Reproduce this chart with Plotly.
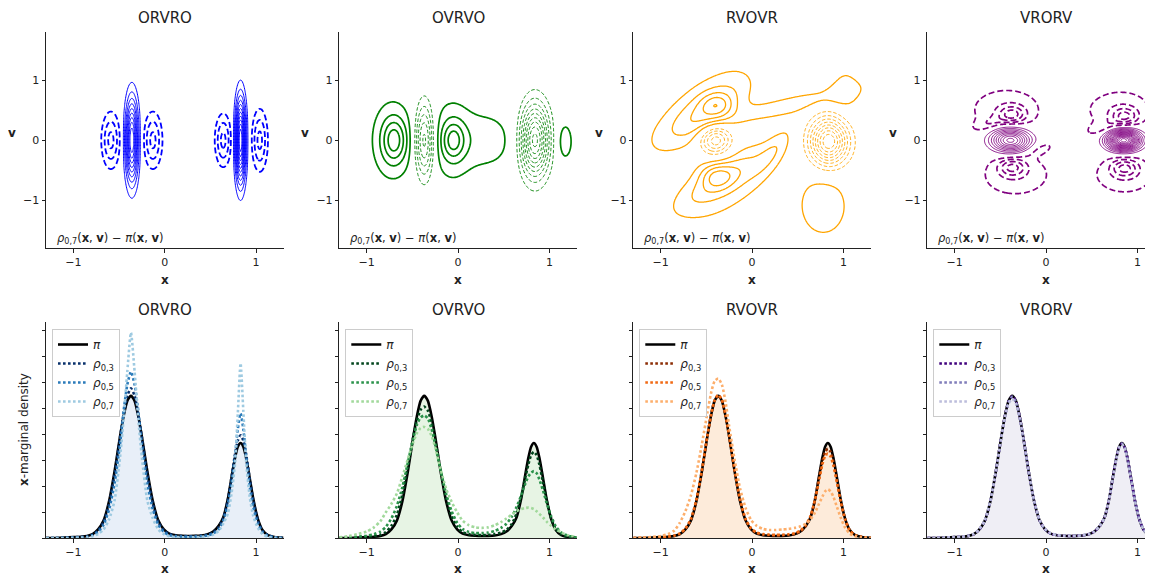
import numpy as np
import plotly.graph_objects as go

# The page body has an 8px margin, so the figure is drawn 8px smaller and every
# reference pixel position is shifted by OFF.
OFF = 8
W, H = 1153 - OFF, 575 - OFF
FONT = "DejaVu Sans"
INK = "#222222"

TITLES = ["ORVRO", "OVRVO", "RVOVR", "VRORV"]
X_TICKS = [-1, 0, 1]
V_TICKS = [-1, 0, 1]
DENS_TICKS = [0, 0.5, 1.0, 1.5, 2.0, 2.5, 3.0, 3.5, 4.0]
RHO_NAMES = ["<i>ρ</i><sub>0,3</sub>", "<i>ρ</i><sub>0,5</sub>", "<i>ρ</i><sub>0,7</sub>"]

# ---------------- x-marginal densities (read from the bottom row) ----------------
X_GRID = [-1.30, -1.20, -1.10, -1.00, -0.92, -0.85, -0.79, -0.73, -0.67, -0.61,
          -0.55, -0.49, -0.45, -0.41, -0.37, -0.33, -0.29, -0.25, -0.19, -0.13,
          -0.07, -0.01, 0.05, 0.12, 0.19, 0.26, 0.33, 0.40, 0.47, 0.53,
          0.59, 0.64, 0.69, 0.73, 0.77, 0.80, 0.83, 0.86, 0.89, 0.93,
          0.97, 1.02, 1.07, 1.13, 1.20, 1.30]

PI = [0.003, 0.007, 0.013, 0.022, 0.030, 0.045, 0.08, 0.17, 0.34, 0.71,
      1.28, 1.95, 2.35, 2.64, 2.74, 2.64, 2.35, 1.95, 1.28, 0.71,
      0.34, 0.17, 0.09, 0.06, 0.05, 0.045, 0.047, 0.055, 0.08, 0.13,
      0.24, 0.40, 0.75, 1.16, 1.55, 1.76, 1.83, 1.76, 1.55, 1.16,
      0.75, 0.37, 0.16, 0.06, 0.025, 0.008]

ORVRO_R03 = [0.003, 0.006, 0.011, 0.019, 0.026, 0.04, 0.07, 0.15, 0.31, 0.66,
             1.22, 1.93, 2.38, 2.74, 2.88, 2.74, 2.38, 1.93, 1.22, 0.66,
             0.31, 0.15, 0.08, 0.05, 0.043, 0.04, 0.042, 0.05, 0.07, 0.11,
             0.21, 0.38, 0.73, 1.16, 1.62, 1.88, 1.98, 1.88, 1.62, 1.15,
             0.72, 0.34, 0.14, 0.055, 0.022, 0.007]
ORVRO_R05 = [0.002, 0.004, 0.008, 0.014, 0.02, 0.03, 0.06, 0.12, 0.26, 0.55,
             1.05, 1.8, 2.45, 2.95, 3.2, 2.95, 2.45, 1.8, 1.05, 0.55,
             0.26, 0.12, 0.06, 0.04, 0.033, 0.03, 0.033, 0.04, 0.055, 0.09,
             0.17, 0.34, 0.65, 1.05, 1.6, 2.1, 2.4, 2.1, 1.6, 1.0,
             0.6, 0.28, 0.12, 0.045, 0.017, 0.005]
ORVRO_R07 = [0.001, 0.002, 0.004, 0.008, 0.012, 0.02, 0.04, 0.08, 0.17, 0.36,
             0.72, 1.55, 2.3, 3.2, 3.95, 3.2, 2.3, 1.55, 0.72, 0.38,
             0.17, 0.08, 0.04, 0.025, 0.02, 0.02, 0.022, 0.028, 0.04, 0.07,
             0.14, 0.28, 0.47, 0.85, 1.45, 2.4, 3.36, 2.45, 1.5, 0.8,
             0.42, 0.2, 0.08, 0.03, 0.01, 0.003]

OVRVO_R03 = [0.005, 0.01, 0.018, 0.03, 0.045, 0.07, 0.12, 0.24, 0.45, 0.84,
             1.38, 1.95, 2.27, 2.47, 2.53, 2.45, 2.22, 1.88, 1.3, 0.78,
             0.42, 0.22, 0.12, 0.08, 0.065, 0.06, 0.065, 0.08, 0.11, 0.16,
             0.28, 0.48, 0.80, 1.12, 1.42, 1.6, 1.66, 1.6, 1.42, 1.08,
             0.72, 0.38, 0.18, 0.07, 0.03, 0.01]
OVRVO_R05 = [0.008, 0.017, 0.03, 0.05, 0.08, 0.13, 0.22, 0.38, 0.62, 0.98,
             1.45, 1.92, 2.18, 2.32, 2.36, 2.3, 2.1, 1.8, 1.3, 0.85,
             0.52, 0.30, 0.18, 0.12, 0.10, 0.10, 0.11, 0.14, 0.20, 0.28,
             0.42, 0.60, 0.82, 1.02, 1.19, 1.26, 1.29, 1.25, 1.13, 0.92,
             0.68, 0.42, 0.23, 0.11, 0.05, 0.015]
OVRVO_R07 = [0.02, 0.04, 0.08, 0.13, 0.21, 0.33, 0.50, 0.66, 0.86, 1.18,
             1.52, 1.85, 2.02, 2.12, 2.14, 2.1, 1.97, 1.75, 1.32, 0.95,
             0.70, 0.50, 0.34, 0.25, 0.21, 0.20, 0.21, 0.25, 0.31, 0.38,
             0.46, 0.52, 0.56, 0.58, 0.59, 0.58, 0.56, 0.52, 0.47, 0.40,
             0.32, 0.24, 0.17, 0.11, 0.06, 0.02]

RVOVR_R03 = [0.003, 0.007, 0.013, 0.022, 0.03, 0.047, 0.085, 0.18, 0.35, 0.72,
             1.29, 1.96, 2.36, 2.65, 2.75, 2.65, 2.36, 1.96, 1.29, 0.72,
             0.35, 0.18, 0.10, 0.07, 0.06, 0.055, 0.057, 0.065, 0.085, 0.13,
             0.24, 0.41, 0.75, 1.13, 1.48, 1.66, 1.72, 1.66, 1.48, 1.12,
             0.73, 0.36, 0.15, 0.06, 0.025, 0.008]
RVOVR_R05 = [0.004, 0.008, 0.015, 0.025, 0.035, 0.055, 0.095, 0.19, 0.37, 0.74,
             1.30, 1.96, 2.36, 2.65, 2.76, 2.66, 2.37, 1.97, 1.31, 0.74,
             0.37, 0.19, 0.11, 0.08, 0.07, 0.065, 0.068, 0.078, 0.10, 0.15,
             0.26, 0.43, 0.75, 1.08, 1.42, 1.58, 1.63, 1.57, 1.40, 1.06,
             0.70, 0.36, 0.15, 0.06, 0.025, 0.008]
RVOVR_R07 = [0.005, 0.012, 0.025, 0.045, 0.08, 0.15, 0.30, 0.52, 0.82, 1.25,
             1.8, 2.4, 2.78, 3.02, 3.07, 2.95, 2.62, 2.15, 1.5, 0.95,
             0.58, 0.35, 0.24, 0.18, 0.16, 0.16, 0.17, 0.18, 0.2, 0.23,
             0.28, 0.36, 0.5, 0.65, 0.8, 0.9, 0.94, 0.9, 0.8, 0.6,
             0.4, 0.2, 0.09, 0.04, 0.015, 0.005]

VRORV_R03 = [0.003, 0.007, 0.013, 0.022, 0.030, 0.046, 0.082, 0.17, 0.34, 0.71,
             1.28, 1.95, 2.35, 2.63, 2.73, 2.63, 2.35, 1.95, 1.28, 0.71,
             0.34, 0.17, 0.09, 0.06, 0.05, 0.045, 0.047, 0.055, 0.08, 0.13,
             0.24, 0.40, 0.75, 1.16, 1.55, 1.75, 1.82, 1.75, 1.55, 1.16,
             0.75, 0.37, 0.16, 0.06, 0.025, 0.008]
VRORV_R05 = [0.003, 0.007, 0.013, 0.022, 0.031, 0.047, 0.083, 0.17, 0.34, 0.71,
             1.28, 1.94, 2.34, 2.62, 2.72, 2.62, 2.34, 1.94, 1.28, 0.71,
             0.34, 0.17, 0.09, 0.06, 0.05, 0.046, 0.048, 0.056, 0.08, 0.13,
             0.24, 0.40, 0.75, 1.15, 1.54, 1.75, 1.82, 1.75, 1.54, 1.15,
             0.75, 0.37, 0.16, 0.06, 0.025, 0.008]
VRORV_R07 = [0.003, 0.007, 0.013, 0.022, 0.031, 0.048, 0.085, 0.18, 0.35, 0.72,
             1.28, 1.93, 2.32, 2.59, 2.68, 2.59, 2.32, 1.93, 1.28, 0.72,
             0.35, 0.18, 0.095, 0.062, 0.052, 0.047, 0.049, 0.057, 0.082, 0.13,
             0.24, 0.40, 0.75, 1.15, 1.53, 1.74, 1.80, 1.74, 1.53, 1.15,
             0.75, 0.37, 0.16, 0.06, 0.025, 0.008]

RHO = [
    [ORVRO_R03, ORVRO_R05, ORVRO_R07],
    [OVRVO_R03, OVRVO_R05, OVRVO_R07],
    [RVOVR_R03, RVOVR_R05, RVOVR_R07],
    [VRORV_R03, VRORV_R05, VRORV_R07],
]

# ---------------- (x, v) difference fields: lobes read from the top row ----------------
# centre x, centre v, spread along axis, spread across axis, axis angle (deg), amplitude (contour steps)
ORVRO_CX = [-0.36, -0.59, -0.13, 0.83, 0.64, 1.04]
ORVRO_CV = [0.0, 0.0, 0.0, 0.0, 0.0, 0.0]
ORVRO_SA = [0.047, 0.068, 0.068, 0.038, 0.060, 0.058]
ORVRO_SB = [0.45, 0.31, 0.31, 0.45, 0.29, 0.34]
ORVRO_ANG = [0, 0, 0, 0, 0, 0]
ORVRO_AMP = [10.0, -3.3, -3.3, 12.0, -3.3, -3.3]

OVRVO_CX = [-0.72, -0.70, -0.37, -0.08, -0.05, 0.30, 0.84, 1.17]
OVRVO_CV = [0.0, 0.0, 0.0, 0.0, 0.0, 0.0, 0.0, -0.02]
OVRVO_SA = [0.19, 0.09, 0.07, 0.15, 0.08, 0.26, 0.105, 0.07]
OVRVO_SB = [0.55, 0.25, 0.42, 0.50, 0.20, 0.40, 0.40, 0.26]
OVRVO_ANG = [0, 0, 0, 0, 0, 0, 0, 0]
OVRVO_AMP = [1.75, 3.0, -5.8, 1.75, 2.4, 1.5, -9.5, 1.6]

RVOVR_CX = [-0.38, -0.48, -0.62, 0.45, 1.02, -0.40, -0.32, -0.28, 0.22, -0.40, 0.84, 0.78]
RVOVR_CV = [0.58, 0.50, 0.50, 0.60, 0.85, -0.58, -0.65, -0.78, -0.20, 0.00, -0.02, -1.10]
RVOVR_SA = [0.12, 0.40, 0.75, 0.62, 0.12, 0.12, 0.42, 0.65, 0.30, 0.115, 0.14, 0.21]
RVOVR_SB = [0.14, 0.17, 0.25, 0.13, 0.35, 0.14, 0.15, 0.30, 0.08, 0.16, 0.26, 0.40]
RVOVR_ANG = [0, 50, 57, 20, 0, 0, 45, 55, 65, 0, 0, 0]
RVOVR_AMP = [2.0, 2.0, 1.3, 1.35, 1.1, 2.0, 2.0, 1.3, 1.2, -5.0, -9.0, 1.8]

VRORV_CX = [-0.39, -0.37, -0.44, -0.62, -0.37, -0.33, -0.08,
            0.85, 0.86, 0.80, 0.60, 0.86, 0.86]
VRORV_CV = [0.0, 0.43, 0.52, 0.28, -0.45, -0.58, -0.15,
            0.0, 0.40, 0.52, 0.20, -0.46, -0.58]
VRORV_SA = [0.145, 0.10, 0.33, 0.14, 0.10, 0.32, 0.14,
            0.12, 0.10, 0.30, 0.13, 0.10, 0.28]
VRORV_SB = [0.13, 0.10, 0.30, 0.07, 0.10, 0.30, 0.07,
            0.11, 0.10, 0.27, 0.07, 0.10, 0.27]
VRORV_ANG = [-8, 0, 10, 30, 0, 10, 30,
             0, 0, 15, 30, 0, 0]
VRORV_AMP = [10.0, -3.0, -1.7, -1.2, -3.0, -1.7, -1.2,
             16.0, -3.0, -1.7, -1.2, -3.0, -1.7]

LOBES = [
    (ORVRO_CX, ORVRO_CV, ORVRO_SA, ORVRO_SB, ORVRO_ANG, ORVRO_AMP),
    (OVRVO_CX, OVRVO_CV, OVRVO_SA, OVRVO_SB, OVRVO_ANG, OVRVO_AMP),
    (RVOVR_CX, RVOVR_CV, RVOVR_SA, RVOVR_SB, RVOVR_ANG, RVOVR_AMP),
    (VRORV_CX, VRORV_CV, VRORV_SA, VRORV_SB, VRORV_ANG, VRORV_AMP),
]

# ---------------- styles ----------------
CONTOUR_COLORS = ["#0000ff", "#008000", "#ffa500", "#800080"]
POS_WIDTH = [1.0, 1.7, 1.3, 0.9]
NEG_WIDTH = [1.8, 0.9, 0.9, 1.7]
NEG_DASH = ["6px,3px", "3.5px,2px", "3.5px,2px", "6px,3px"]
RHO_COLORS = [
    ["#08306b", "#2b7bba", "#9ecae1"],
    ["#00441b", "#2a924a", "#a1d99b"],
    ["#8c2d04", "#f16913", "#fdae6b"],
    ["#3f007d", "#807dba", "#bcbddc"],
]
FILL_COLORS = ["#e8eff8", "#e7f4e4", "#fdebda", "#efeef5"]

# axes geometry in reference-page pixels
AX_LEFT = [46.0, 339.3, 633.3, 927.3]
AX_W = 237.5
X_MIN, X_MAX = -1.3, 1.3
TOP_Y = (32.3, 248.3)
BOT_Y = (322.3, 538.3)


def px(xp):
    return (xp - OFF) / W


def py(yp):
    return 1 - (yp - OFF) / H


def field(xg, vg, cx, cv, sa, sb, ang, amp):
    X, V = np.meshgrid(xg, vg)
    Z = np.zeros_like(X)
    for a, b, s1, s2, t, A in zip(cx, cv, sa, sb, ang, amp):
        th = np.deg2rad(t)
        dx, dv = X - a, V - b
        u = dx * np.cos(th) + dv * np.sin(th)
        w = -dx * np.sin(th) + dv * np.cos(th)
        Z += A * np.exp(-0.5 * ((u / s1) ** 2 + (w / s2) ** 2))
    return np.round(Z, 3)


xg = np.round(np.linspace(-1.3, 1.3, 261), 3)
vg = np.round(np.linspace(-1.8, 1.8, 145), 3)

fig = go.Figure()
layout = dict(
    width=W, height=H, autosize=False,
    margin=dict(l=0, r=0, t=0, b=0, autoexpand=False),
    paper_bgcolor="white", plot_bgcolor="white",
    font=dict(family=FONT, size=11, color=INK),
    showlegend=True,
)
annotations = []


def axis_common():
    return dict(showline=True, linecolor=INK, linewidth=1, ticks="outside", ticklen=3.5,
                tickwidth=1, tickcolor=INK, showgrid=False, zeroline=False,
                tickfont=dict(family=FONT, size=11, color=INK), fixedrange=True)


for i in range(4):
    left = AX_LEFT[i]
    right = min(left + AX_W, 1153)
    xr = X_MIN + (right - left) / AX_W * (X_MAX - X_MIN)
    xdom = [px(left), min(px(right), 1.0)]
    top_dom = [py(TOP_Y[1]), py(TOP_Y[0])]
    bot_dom = [py(BOT_Y[1]), py(BOT_Y[0])]
    nt, nb = i + 1, i + 5
    xt, yt = f"x{nt}", f"y{nt}"
    xb, yb = f"x{nb}", f"y{nb}"

    layout[f"xaxis{nt}"] = dict(domain=xdom, range=[X_MIN, xr], anchor=yt,
                                tickvals=X_TICKS, **axis_common())
    layout[f"yaxis{nt}"] = dict(domain=top_dom, range=[-1.8, 1.8], anchor=xt,
                                tickvals=V_TICKS, **axis_common())
    layout[f"xaxis{nb}"] = dict(domain=xdom, range=[X_MIN, xr], anchor=yb,
                                tickvals=X_TICKS, **axis_common())
    layout[f"yaxis{nb}"] = dict(domain=bot_dom, range=[0, 4.15], anchor=xb,
                                tickvals=DENS_TICKS, showticklabels=False, **axis_common())

    # ---- top: contour lines of rho_{0,7} - pi ----
    Z = field(xg, vg, *LOBES[i])
    c = CONTOUR_COLORS[i]
    cs = [[0, c], [1, c]]
    fig.add_trace(go.Contour(
        x=xg, y=vg, z=Z, xaxis=xt, yaxis=yt, autocontour=False,
        contours=dict(start=1, end=60, size=1, coloring="lines"),
        colorscale=cs, showscale=False, line=dict(width=POS_WIDTH[i], dash="solid", smoothing=1),
        hoverinfo="skip", showlegend=False))
    fig.add_trace(go.Contour(
        x=xg, y=vg, z=Z, xaxis=xt, yaxis=yt, autocontour=False,
        contours=dict(start=-60, end=-1, size=1, coloring="lines"),
        colorscale=cs, showscale=False, line=dict(width=NEG_WIDTH[i], dash=NEG_DASH[i], smoothing=1),
        hoverinfo="skip", showlegend=False))

    # ---- bottom: x-marginal densities ----
    leg = "legend" if i == 0 else f"legend{i + 1}"
    fig.add_trace(go.Scatter(
        x=X_GRID, y=PI, xaxis=xb, yaxis=yb, mode="lines",
        line=dict(width=0, color=FILL_COLORS[i], shape="spline", smoothing=0.6),
        fill="tozeroy", fillcolor=FILL_COLORS[i], showlegend=False, hoverinfo="skip"))
    fig.add_trace(go.Scatter(
        x=X_GRID, y=PI, xaxis=xb, yaxis=yb, mode="lines", name="<i>π</i>",
        line=dict(width=2.6, color="black", shape="spline", smoothing=0.6),
        legend=leg, hoverinfo="skip"))
    for k in range(3):
        fig.add_trace(go.Scatter(
            x=X_GRID, y=RHO[i][k], xaxis=xb, yaxis=yb, mode="lines", name=RHO_NAMES[k],
            line=dict(width=2.6, color=RHO_COLORS[i][k], dash="2.6px,2.4px",
                      shape="spline", smoothing=0.6),
            legend=leg, hoverinfo="skip"))

    layout[leg] = dict(
        x=px(left + 6), y=py(329), xanchor="left", yanchor="top",
        bgcolor="rgba(255,255,255,0.85)", bordercolor="#cccccc", borderwidth=1,
        font=dict(family=FONT, size=12, color=INK), itemwidth=30, tracegroupgap=0)

    cx_px = left + AX_W / 2
    for ypx in (18, 310):
        annotations.append(dict(text=TITLES[i], x=px(cx_px), y=py(ypx), xref="paper", yref="paper",
                                xanchor="center", yanchor="middle", showarrow=False,
                                font=dict(family=FONT, size=15, color=INK)))
    for ypx in (280, 569):
        annotations.append(dict(text="<b>x</b>", x=px(cx_px), y=py(ypx), xref="paper", yref="paper",
                                xanchor="center", yanchor="middle", showarrow=False,
                                font=dict(family=FONT, size=12, color=INK)))
    annotations.append(dict(text="<b>v</b>", x=px(left - 34), y=py(133), xref="paper", yref="paper",
                            xanchor="center", yanchor="middle", showarrow=False,
                            font=dict(family=FONT, size=12, color=INK)))
    annotations.append(dict(text="<i>ρ</i><sub>0,7</sub>(<b>x</b>, <b>v</b>) − <i>π</i>(<b>x</b>, <b>v</b>)",
                            x=px(left + 9), y=py(238), xref="paper", yref="paper",
                            xanchor="left", yanchor="middle", showarrow=False,
                            font=dict(family=FONT, size=11.5, color=INK)))

annotations.append(dict(text="<b>x</b>-marginal density", x=px(24), y=py(430), xref="paper", yref="paper",
                        xanchor="center", yanchor="middle", textangle=-90, showarrow=False,
                        font=dict(family=FONT, size=12, color=INK)))

layout["annotations"] = annotations
fig.update_layout(**layout)
fig.write_html("out.html")
